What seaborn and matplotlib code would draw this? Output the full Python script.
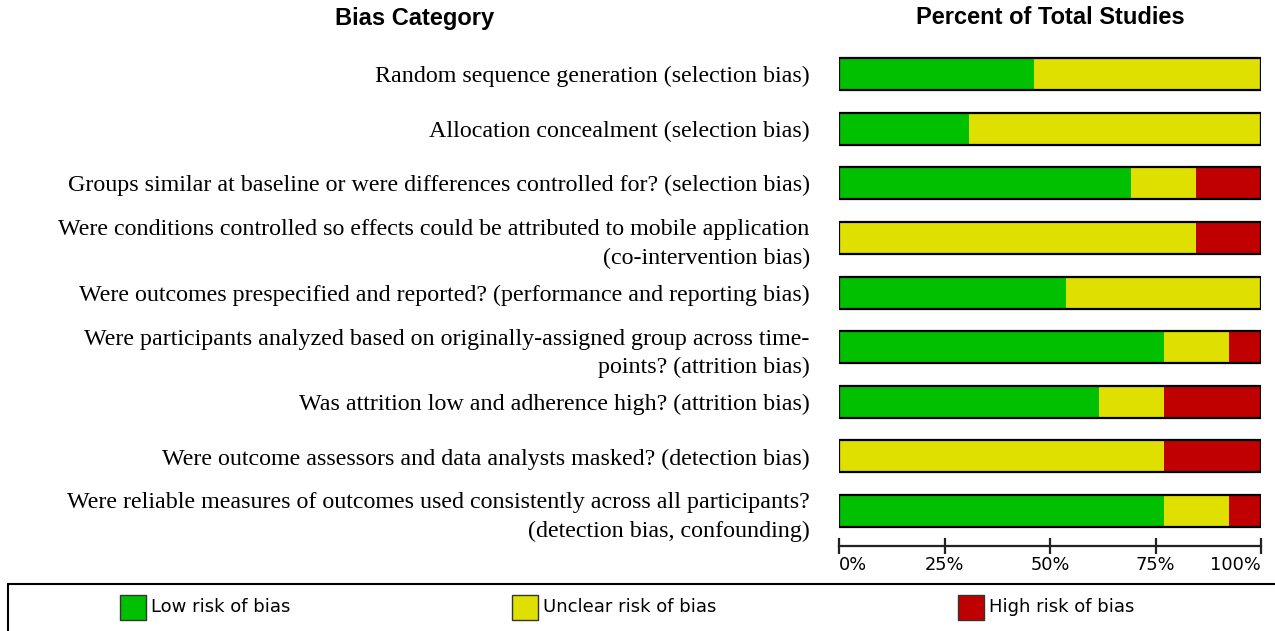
import numpy as np
import pandas as pd
import matplotlib
matplotlib.use("Agg")
import matplotlib.pyplot as plt
import matplotlib.patches as mpatches
import seaborn as sns

# --- DATOS (porcentaje de estudios, 13 estudios) ---
categorias = [
    "Random sequence generation (selection bias)",
    "Allocation concealment (selection bias)",
    "Groups similar at baseline or were differences controlled for? (selection bias)",
    "Were conditions controlled so effects could be attributed to mobile application\n(co-intervention bias)",
    "Were outcomes prespecified and reported? (performance and reporting bias)",
    "Were participants analyzed based on originally-assigned group across time-\npoints? (attrition bias)",
    "Was attrition low and adherence high? (attrition bias)",
    "Were outcome assessors and data analysts masked? (detection bias)",
    "Were reliable measures of outcomes used consistently across all participants?\n(detection bias, confounding)",
]
n_estudios = 13
bajo = [6, 4, 9, 0, 7, 10, 8, 0, 10]
incierto = [7, 9, 2, 11, 6, 2, 2, 10, 2]
alto = [0, 0, 2, 2, 0, 1, 3, 3, 1]

ticks = [0, 25, 50, 75, 100]
tick_labels = ["0%", "25%", "50%", "75%", "100%"]
leyenda = ["Low risk of bias", "Unclear risk of bias", "High risk of bias"]
colores = ["#00C000", "#E0E000", "#C00000"]

df = pd.DataFrame({
    "cat": categorias,
    "bajo": np.array(bajo) / n_estudios * 100,
    "incierto": np.array(incierto) / n_estudios * 100,
    "alto": np.array(alto) / n_estudios * 100,
})
df["c1"] = df["bajo"]
df["c2"] = df["bajo"] + df["incierto"]
df["c3"] = df["c2"] + df["alto"]

sns.set_style("white")
plt.rcParams["text.color"] = "black"
fig = plt.figure(figsize=(12.75, 6.31), dpi=100)
ax = fig.add_axes([839 / 1275, 1 - 546 / 631, 422 / 1275, (546 - 50) / 631])

alto_barra = 0.586
# capas acumuladas: rojo (total), amarillo, verde
for col, color in zip(["c3", "c2", "c1"], colores[::-1]):
    sns.barplot(data=df, x=col, y="cat", orient="h", color=color,
                saturation=1, width=alto_barra, ax=ax, linewidth=0)
ax.barh(np.arange(len(df)), df["c3"], height=alto_barra, fill=False,
        edgecolor="black", linewidth=1.6)

ax.set_xlim(0, 100)
ax.set_ylim(8.64, -0.44)
ax.set_xlabel("")
ax.set_ylabel("")
for s in ["top", "right", "left"]:
    ax.spines[s].set_visible(False)
ax.spines["bottom"].set_linewidth(1.6)
ax.spines["bottom"].set_color("#222222")

ax.set_xticks(ticks)
ax.set_xticklabels(tick_labels, fontsize=12.8, family="DejaVu Sans", color="black")
ax.tick_params(axis="x", direction="inout", length=12, width=1.6,
               color="#222222", pad=1, bottom=True)
lbls = ax.get_xticklabels()
lbls[0].set_ha("left")
lbls[-1].set_ha("right")

ax.set_yticks(np.arange(len(df)))
ax.set_yticklabels(categorias, fontsize=17.3, family="Liberation Serif",
                   color="black", linespacing=1.45)
ax.tick_params(axis="y", length=0, pad=21)

# titulos
fig.text(415 / 1275, 1 - 18 / 631, "Bias Category", ha="center", va="center",
         fontsize=17, fontweight="bold", family="Liberation Sans")
fig.text(1050 / 1275, 1 - 18 / 631, "Percent of Total Studies", ha="center",
         va="center", fontsize=17, fontweight="bold", family="Liberation Sans")

# caja de leyenda
fig.patches.append(mpatches.Rectangle((8 / 1275, -0.05), 1.1, 0.05 + 1 - 584 / 631,
                                      transform=fig.transFigure, fill=False,
                                      edgecolor="black", linewidth=1.5))
pos_x = [120, 512, 958]
for px, txt, color in zip(pos_x, leyenda, colores):
    fig.patches.append(mpatches.Rectangle((px / 1275, 1 - 620 / 631), 26 / 1275, 25 / 631,
                                          transform=fig.transFigure, facecolor=color,
                                          edgecolor="#333333", linewidth=1))
    fig.text((px + 31) / 1275, 1 - 607 / 631, txt, ha="left", va="center",
             fontsize=13, family="DejaVu Sans")

fig.savefig("out.png", dpi=100)
